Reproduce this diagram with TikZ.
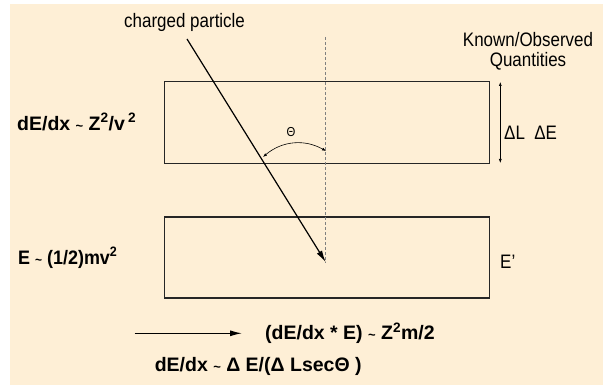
\documentclass[tikz,border=0pt]{standalone}
\usepackage{fontspec}
\setmainfont{Liberation Sans}[FakeStretch=0.87]
\newfontfamily\heavyfont{Liberation Sans}
\usetikzlibrary{arrows.meta}
\definecolor{paper}{RGB}{254,239,214}
\newcommand{\tld}{{\fontsize{13}{13}\selectfont\char"7E}}

\begin{document}
\begin{tikzpicture}[x=1pt, y=-1pt,
  slab/.style={draw=black!85, line width=1.4pt, minimum width=325pt, inner sep=0pt},
  boldlabel/.style={font=\heavyfont\fontsize{19.5}{22}\selectfont\bfseries, anchor=west, inner sep=0pt},
  plainlabel/.style={font=\fontsize{19.5}{20}\selectfont, inner sep=0pt},
  arrow/.style={-{Latex[length=12pt,width=6pt]}, line width=1.2pt},
  smallarrow/.style={{Latex[length=4pt,width=3pt]}-{Latex[length=4pt,width=3pt]}, line width=0.6pt},
  normal/.style={gray, dash pattern=on 3pt off 2pt, line width=0.8pt}
]

\useasboundingbox (0,0) rectangle (603,385);
\fill[white] (0,0) rectangle (603,385);
\fill[paper] (10,4) rectangle (603,385);

% the two slabs
\node[slab, minimum height=81.6pt] (slab1) at (327.1,122.5) {};
\node[slab, minimum height=80.6pt] (slab2) at (327.1,257.5) {};

% normal and particle track
\coordinate (normtop) at (325.8,37);
\coordinate (normbot) at (325.8,262.3);
\coordinate (ptop) at (187,39);
\draw[normal] (normtop) -- (normbot);
\draw[arrow] (ptop) -- (normbot);

\node[plainlabel] (partlabel) at (184.6,22) {charged particle};

% angle
\coordinate (thR) at (326,151);
\coordinate (thL) at (263,157);
\draw[smallarrow] (thR) to[bend right=35] (thL);
\node[plainlabel, font=\fontsize{13}{13}\selectfont] (theta) at (291,131.7) {Θ};

% right column
\node[plainlabel, align=center] (known) at (528,51.7) {Known/Observed\\Quantities};
\draw[smallarrow] ([xshift=10pt,yshift=-1pt]slab1.north east) -- ([xshift=10pt,yshift=1pt]slab1.south east);
\node[plainlabel, anchor=west] (dLdE) at (504,132.3) {ΔL\ \ ΔE};
\node[plainlabel, anchor=west] (Eprime) at (500,261.7) {E'};

% left column
\node[boldlabel] (dedx) at (17,121.7) {dE/dx \tld\ Z\textsuperscript{2}/v\,\textsuperscript{2}};
\node[boldlabel] (ekin) at (18,257.7) {\scalebox{0.92}[1]{E \tld\ (1/2)mv\textsuperscript{2}}};

% bottom
\coordinate (astart) at (134.6,333.3);
\node[boldlabel] (prod) at (265,333.3) {(dE/dx * E) \tld\ Z\textsuperscript{2}m/2};
\draw[arrow] (astart) -- ([xshift=-23pt]prod.west);
\node[boldlabel] (ratio) at (154.6,366.7) {dE/dx \tld\ Δ E/(Δ LsecΘ )};

\end{tikzpicture}
\end{document}
